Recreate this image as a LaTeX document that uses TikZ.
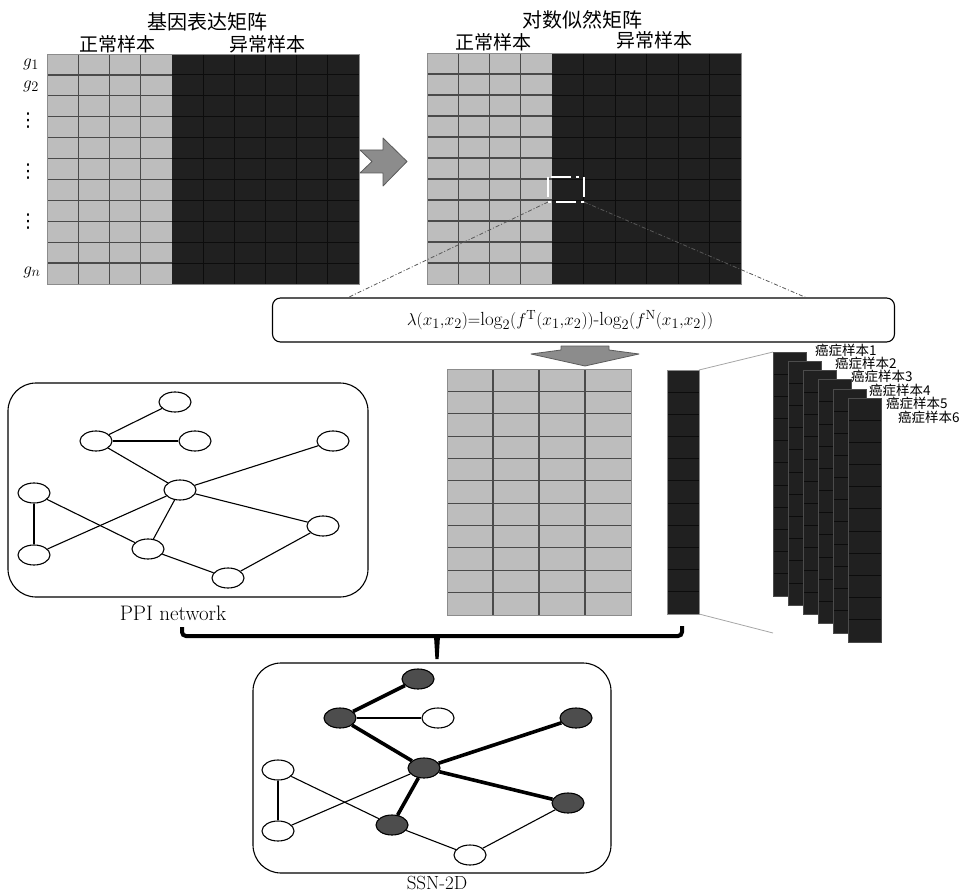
\documentclass[tikz,border=0pt]{standalone}
\usepackage{fontspec}
\newfontfamily\cjk{Noto Sans CJK SC}
\newfontfamily\symfont{DejaVu Sans}
\usetikzlibrary{shapes.geometric}

\definecolor{cellLight}{HTML}{BDBDBD}
\definecolor{cellDark}{HTML}{202020}
\definecolor{gridLight}{HTML}{4A4A4A}
\definecolor{gridDark}{HTML}{0C0C0C}
\definecolor{nodeDark}{HTML}{4D4D4D}
\definecolor{arrowFill}{HTML}{8C8C8C}
\definecolor{arrowEdge}{HTML}{5A5A5A}

\begin{document}
\begin{tikzpicture}[x=1pt,y=-1pt,
  lightpart/.style={fill=cellLight},
  darkpart/.style={fill=cellDark},
  lgrid/.style={draw=gridLight,line width=1.2pt},
  dgrid/.style={draw=gridDark,line width=0.9pt},
  frame/.style={draw=black!45,line width=0.6pt},
  title/.style={font=\cjk\fontsize{20}{22}\selectfont,inner sep=0pt},
  sub/.style={font=\cjk\fontsize{19}{21}\selectfont,inner sep=0pt},
  gene/.style={font=\fontsize{19}{21}\selectfont,inner sep=0pt},
  genedots/.style={font=\symfont\fontsize{19}{21}\selectfont,inner sep=0pt},
  bigarrow/.style={fill=arrowFill,draw=arrowEdge,line width=0.8pt,line join=round},
  zoomline/.style={draw=black!65,line width=0.8pt,dash pattern=on 4pt off 2pt on 1pt off 2pt},
  gnode/.style={ellipse,draw,line width=1.1pt,minimum width=32pt,minimum height=20pt,inner sep=0pt,fill=white},
  hotnode/.style={gnode,fill=nodeDark},
  edge/.style={line width=1.1pt},
  hotedge/.style={line width=3.6pt},
  panel/.style={draw,line width=1.1pt,rounded corners=28pt,inner sep=0pt},
  caption/.style={inner sep=0pt},
  sample/.style={font=\cjk\fontsize{13.5}{14}\selectfont,inner sep=0pt,anchor=west}
]
\useasboundingbox (0,0) rectangle (966,893);

%% ---------- gene expression matrix ----------
\fill[lightpart] (47,54) rectangle (172,284);
\fill[darkpart] (172,54) rectangle (359,284);
\foreach \i in {1,...,10}{
  \draw[lgrid] (47,54+\i*20.909) -- (172,54+\i*20.909);
  \draw[dgrid] (172,54+\i*20.909) -- (359,54+\i*20.909);
}
\foreach \j in {1,2,3}{\draw[lgrid] (47+\j*31.25,54) -- (47+\j*31.25,284);}
\foreach \j in {1,...,5}{\draw[dgrid] (172+\j*31.17,54) -- (172+\j*31.17,284);}
\draw[frame] (47,54) rectangle (359,284);

\node[title] (t1) at (207,22) {基因表达矩阵};
\node[sub] (n1) at (117,44) {正常样本};
\node[sub] (a1) at (267,44) {异常样本};

\node[gene] (g1) at (31,64) {$g_1$};
\node[gene] (g2) at (31,86) {$g_2$};
\node[genedots] (v1) at (28,121) {⋮};
\node[genedots] (v2) at (28,172) {⋮};
\node[genedots] (v3) at (28,222) {⋮};
\node[gene] (gn) at (32,272) {$g_n$};

%% ---------- arrow to the log-likelihood matrix ----------
\filldraw[bigarrow] (360,150) -- (383,150) -- (383,138) -- (407,161.5)
  -- (383,186) -- (383,173) -- (360,173) -- (372,161.5) -- cycle;

%% ---------- log-likelihood matrix ----------
\fill[lightpart] (427,53) rectangle (552,284);
\fill[darkpart] (552,53) rectangle (741,284);
\foreach \i in {1,...,10}{
  \draw[lgrid] (427,53+\i*21) -- (552,53+\i*21);
  \draw[dgrid] (552,53+\i*21) -- (741,53+\i*21);
}
\foreach \j in {1,2,3}{\draw[lgrid] (427+\j*31.25,53) -- (427+\j*31.25,284);}
\foreach \j in {1,...,5}{\draw[dgrid] (552+\j*31.5,53) -- (552+\j*31.5,284);}
\draw[frame] (427,53) rectangle (741,284);

\node[title] (t2) at (582,20) {对数似然矩阵};
\node[sub] (n2) at (493,42) {正常样本};
\node[sub] (a2) at (654,40) {异常样本};

% highlighted cell pair
\draw[white,line width=1.6pt,dash pattern=on 20pt off 5pt on 3pt off 5pt] (548,177) rectangle (584,202);
\coordinate (zl) at (548,202);
\coordinate (zr) at (584,202);

%% ---------- formula box ----------
\node[draw,line width=1.1pt,rounded corners=8pt,minimum width=622pt,minimum height=44pt,inner sep=0pt] (fbox) at (583.5,320) {};
\node[inner sep=0pt,font=\fontsize{19}{21}\selectfont] (formula) at (560,320)
  {$\lambda(x_1{,}x_2){=}\mathrm{log}_2(f^{\mathrm{T}}(x_1{,}x_2))\mbox{-}\mathrm{log}_2(f^{\mathrm{N}}(x_1{,}x_2))$};
\coordinate (fl) at (347,298);
\coordinate (fr) at (807,298);
\draw[zoomline] (zl) -- (fl);
\draw[zoomline] (zr) -- (fr);

%% ---------- arrow down ----------
\filldraw[bigarrow] (561,346) -- (609,346) -- (609,350) -- (639,354) -- (585,366)
  -- (531,354) -- (561,350) -- cycle;

%% ---------- normal-sample matrix ----------
\fill[lightpart] (447,369) rectangle (631,615);
\foreach \i in {1,...,10}{\draw[lgrid,line width=1pt] (447,369+\i*22.364) -- (631,369+\i*22.364);}
\foreach \j in {1,2,3}{\draw[lgrid,line width=1.2pt] (447+\j*46,369) -- (447+\j*46,615);}
\draw[frame] (447,369) rectangle (631,615);

%% ---------- one cancer sample column ----------
\fill[darkpart] (667,370) rectangle (699,614);
\foreach \i in {1,...,10}{\draw[dgrid] (667,370+\i*22.18) -- (699,370+\i*22.18);}
\draw[frame] (667,370) rectangle (699,614);
\coordinate (ct) at (699,370);
\coordinate (cb) at (699,614);

%% ---------- stack of cancer samples ----------
\foreach \k in {0,...,5}{
  \pgfmathsetmacro{\sx}{773+15*\k}
  \pgfmathsetmacro{\sy}{352+9.2*\k}
  \fill[darkpart] (\sx,\sy) rectangle (\sx+33,\sy+244);
  \foreach \i in {1,...,10}{\draw[dgrid] (\sx,\sy+\i*22.18) -- (\sx+33,\sy+\i*22.18);}
  \draw[draw=black!70,line width=0.6pt] (\sx,\sy) rectangle (\sx+33,\sy+244);
}
\coordinate (st) at (773,352);
\coordinate (sb) at (773,633);
\draw[black!35,line width=0.8pt] (ct) -- (st);
\draw[black!35,line width=0.8pt] (cb) -- (sb);

\node[sample] (c1) at (815,350) {癌症样本1};
\node[sample] (c2) at (835,363.4) {癌症样本2};
\node[sample] (c3) at (851,376.8) {癌症样本3};
\node[sample] (c4) at (869,390.2) {癌症样本4};
\node[sample] (c5) at (886,403.6) {癌症样本5};
\node[sample] (c6) at (898,417) {癌症样本6};

%% ---------- PPI network ----------
\node[panel,minimum width=360pt,minimum height=214pt] (ppi) at (188,490) {};
\node[caption,font=\fontsize{21}{23}\selectfont] (ppilab) at (173,613) {PPI network};

\node[gnode] (p1) at (175,402) {};
\node[gnode] (p2) at (96,441) {};
\node[gnode] (p3) at (195,441) {};
\node[gnode] (p4) at (333,441) {};
\node[gnode] (p5) at (180,490) {};
\node[gnode] (p6) at (34,493) {};
\node[gnode] (p7) at (323,526) {};
\node[gnode] (p8) at (148,549) {};
\node[gnode] (p9) at (34,555) {};
\node[gnode] (p10) at (228,578) {};
\foreach \a/\b in {p2/p1,p2/p3,p2/p5,p5/p4,p5/p7,p5/p8,p5/p9,p6/p9,p6/p8,p8/p10,p10/p7}
  {\draw[edge] (\a) -- (\b);}

%% ---------- bracket joining both inputs ----------
\draw[line width=4pt,rounded corners=4pt] (182,627) -- (182,636) -- (682,636) -- (682,626);
\fill (434,636) -- (440,636) -- (438.6,659) -- (435.4,659) -- cycle;

%% ---------- SSN-2D network ----------
\node[panel,minimum width=358pt,minimum height=210pt] (ssn) at (432,768) {};
\node[caption,font=\fontsize{19}{21}\selectfont] (ssnlab) at (437,883) {SSN-2D};

\node[hotnode] (s1) at (418,679) {};
\node[hotnode] (s2) at (340,718) {};
\node[gnode] (s3) at (438,718) {};
\node[hotnode] (s4) at (576,718) {};
\node[hotnode] (s5) at (424,768) {};
\node[gnode] (s6) at (278,770) {};
\node[hotnode] (s7) at (568,803) {};
\node[hotnode] (s8) at (392,825) {};
\node[gnode] (s9) at (278,831) {};
\node[gnode] (s10) at (470,855) {};
\foreach \a/\b in {s2/s1,s2/s5,s5/s4,s5/s7,s5/s8}
  {\draw[hotedge] (\a) -- (\b);}
\foreach \a/\b in {s2/s3,s5/s9,s6/s9,s6/s8,s8/s10,s10/s7}
  {\draw[edge] (\a) -- (\b);}
\end{tikzpicture}
\end{document}
